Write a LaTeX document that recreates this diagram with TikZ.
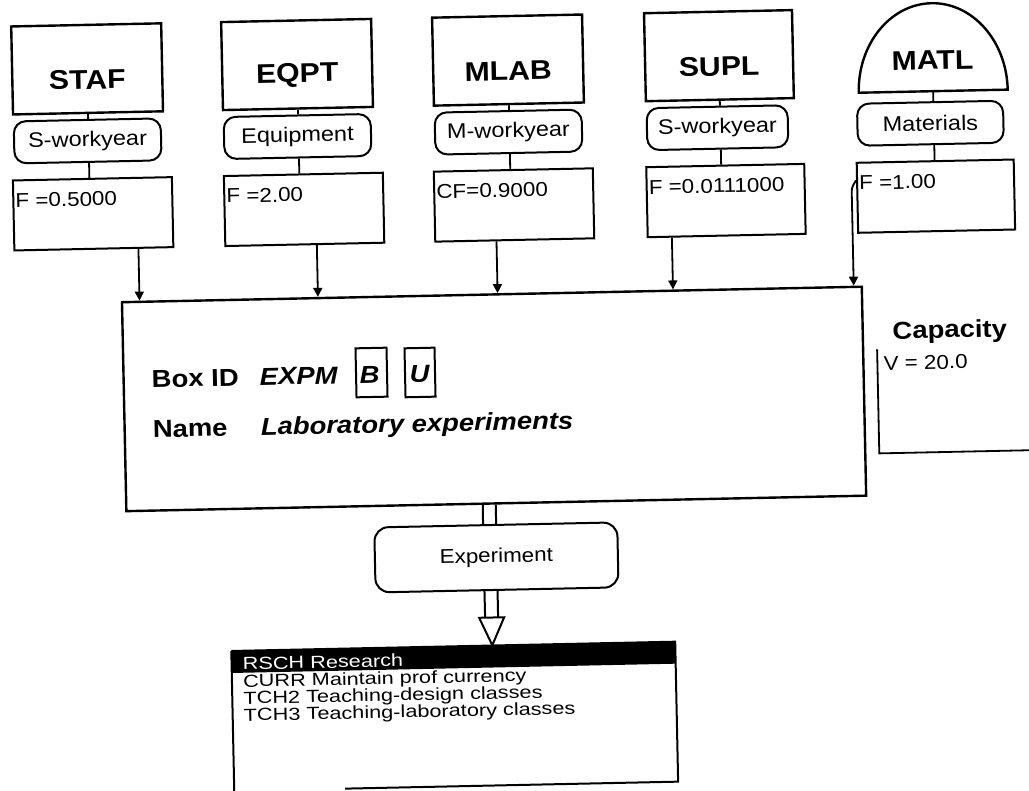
\documentclass[tikz,border=0pt]{standalone}
\usepackage{fontspec}
\setmainfont{Liberation Sans}[FakeStretch=1.12]
\newfontfamily\listfont{Liberation Sans}[FakeStretch=1.24]
\usetikzlibrary{arrows.meta,calc}
\begin{document}
\begin{tikzpicture}[x=1pt,y=-1pt,
  topbox/.style={draw,line width=2.4pt,minimum width=150pt,minimum height=88pt,inner sep=0pt},
  hdr/.style={inner sep=0pt,font=\bfseries\fontsize{27}{30}\selectfont},
  pill/.style={draw,line width=2pt,rounded corners=12pt,minimum width=147pt,minimum height=42pt,inner sep=0pt,font=\fontsize{21}{24}\selectfont},
  fbox/.style={draw,line width=2pt,minimum width=159pt,minimum height=70pt,inner sep=0pt},
  ftext/.style={anchor=base west,inner sep=0pt,font=\fontsize{20}{24}\selectfont},
  link/.style={line width=1.8pt},
  arr/.style={line width=1.8pt,-{Triangle[length=9pt,width=9pt]}},
  bigtxt/.style={anchor=base west,inner sep=0pt,font=\bfseries\fontsize{24.5}{28}\selectfont},
  bigit/.style={anchor=base west,inner sep=0pt,font=\bfseries\itshape\fontsize{24.5}{28}\selectfont},
  bubox/.style={draw,line width=2pt,minimum width=31pt,minimum height=49pt,inner sep=0pt},
  listtxt/.style={anchor=base west,inner sep=0pt,text height=11pt,text depth=2pt,font=\listfont\fontsize{17.5}{20}\selectfont}
]
\useasboundingbox (0,0) rectangle (1029,791);
\fill[white] (0,0) rectangle (1029,791);
\clip (0,0) rectangle (1029,791);
\begin{scope}[rotate around={1.2:(515,395)},transform shape]

% main box
\node[draw,line width=2.4pt,minimum width=740pt,minimum height=209pt,inner sep=0pt] (main) at (494,398.5) {};

% column 1
\node[topbox] (staf) at (94,60) {};
\node[hdr] (stafl) at (94,71) {STAF};
\node[pill] (p1) at (93,132) {S-workyear};
\node[fbox] (f1) at (97,205) {};
\node[ftext] (f1t) at (19.5,197) {F =0.5000};
\draw[link] (staf.south) -- ($(p1.north west)!(staf.south)!(p1.north east)$);
\draw[link] ($(p1.south west)!(staf.south)!(p1.south east)$) -- ($(f1.north west)!(staf.south)!(f1.north east)$);
\coordinate (a1) at ($(f1.south west)!0.777!(f1.south east)$);
\draw[arr] (a1) -- ($(main.north west)!(a1)!(main.north east)$);

% column 2
\node[topbox] (eqpt) at (304,60) {};
\node[hdr] (eqptl) at (304,71) {EQPT};
\node[pill] (p2) at (303,132) {Equipment};
\node[fbox] (f2) at (308,205) {};
\node[ftext] (f2t) at (230.5,197) {F =2.00};
\draw[link] (eqpt.south) -- ($(p2.north west)!(eqpt.south)!(p2.north east)$);
\draw[link] ($(p2.south west)!(eqpt.south)!(p2.south east)$) -- ($(f2.north west)!(eqpt.south)!(f2.north east)$);
\coordinate (a2) at ($(f2.south west)!0.575!(f2.south east)$);
\draw[arr] (a2) -- ($(main.north west)!(a2)!(main.north east)$);

% column 3
\node[topbox] (mlab) at (515,60) {};
\node[hdr] (mlabl) at (515,71) {MLAB};
\node[pill] (p3) at (514,132) {M-workyear};
\node[fbox] (f3) at (518,205) {};
\node[ftext] (f3t) at (440.5,197) {CF=0.9000};
\draw[link] (mlab.south) -- ($(p3.north west)!(mlab.south)!(p3.north east)$);
\draw[link] ($(p3.south west)!(mlab.south)!(p3.south east)$) -- ($(f3.north west)!(mlab.south)!(f3.north east)$);
\coordinate (a3) at ($(f3.south west)!0.387!(f3.south east)$);
\draw[arr] (a3) -- ($(main.north west)!(a3)!(main.north east)$);

% column 4
\node[topbox,minimum width=148pt] (supl) at (726,60) {};
\node[hdr] (supll) at (726,71) {SUPL};
\node[pill,minimum width=141pt] (p4) at (723,132) {S-workyear};
\node[fbox,minimum width=158pt] (f4) at (730,205) {};
\node[ftext] (f4t) at (653,197) {F =0.0111000};
\draw[link] (supl.south) -- ($(p4.north west)!(supl.south)!(p4.north east)$);
\draw[link] ($(p4.south west)!(supl.south)!(p4.south east)$) -- ($(f4.north west)!(supl.south)!(f4.north east)$);
\coordinate (a4) at ($(f4.south west)!0.158!(f4.south east)$);
\draw[arr] (a4) -- ($(main.north west)!(a4)!(main.north east)$);

% column 5 (dome)
\draw[line width=2.4pt] (1014,100) arc[start angle=0,end angle=-180,x radius=74.5,y radius=88] -- cycle;
\coordinate (matlb) at (939.5,100);
\node[hdr] (matl) at (939.5,69) {MATL};
\node[pill,minimum width=146pt] (p5) at (936,132) {Materials};
\node[fbox,minimum width=157pt] (f5) at (940,205) {};
\node[ftext] (f5t) at (863.5,197) {F =1.00};
\draw[link] (matlb) -- ($(p5.north west)!(matlb)!(p5.north east)$);
\draw[link] ($(p5.south west)!(matlb)!(p5.south east)$) -- ($(f5.north west)!(matlb)!(f5.north east)$);
\coordinate (m1) at (856,195);
\draw[arr,rounded corners=3pt] ($(f5.north west)!0.257!(f5.south west)$) -- (m1) -- ($(main.north west)!(m1)!(main.north east)$);

% main box content
\node[bigtxt] (boxid) at (152,380) {Box ID};
\node[bigit] (expm) at (260,380) {EXPM};
\node[bubox] (bb) at (372,369.5) {};
\node[anchor=base,inner sep=0pt,font=\bfseries\itshape\fontsize{24.5}{28}\selectfont] (bbt) at (370,380) {B};
\node[bubox,minimum width=30pt] (ub) at (420.5,370.5) {};
\node[anchor=base,inner sep=0pt,font=\bfseries\itshape\fontsize{24.5}{28}\selectfont] (ubt) at (420,380) {U};
\node[bigtxt] (name) at (152,430) {Name};
\node[bigit] (labx) at (260,430) {Laboratory experiments};

% capacity
\node[anchor=base,inner sep=0pt,font=\bfseries\fontsize{24.5}{28}\selectfont] (cap) at (951,347) {Capacity};
\node[ftext] (capv) at (884,378) {V = 20.0};
\draw[line width=1.8pt] (878,357) -- (878,461) -- (1045,461);

% output
\node[draw,line width=2pt,rounded corners=14pt,minimum width=243pt,minimum height=65pt,inner sep=0pt,font=\fontsize{20}{24}\selectfont] (exp) at (493,557) {Experiment};
\draw[link,line width=2pt] ($(main.south west)!0.4818!(main.south east)$) -- ($(exp.north west)!0.4486!(exp.north east)$);
\draw[link,line width=2pt] ($(main.south west)!0.4993!(main.south east)$) -- ($(exp.north west)!0.502!(exp.north east)$);
\coordinate (tb1) at (480.5,617);
\coordinate (tb2) at (493.5,617);
\draw[link,line width=2pt] ($(exp.south west)!0.4486!(exp.south east)$) -- (tb1);
\draw[link,line width=2pt] ($(exp.south west)!0.502!(exp.south east)$) -- (tb2);
\node[minimum width=444pt,minimum height=140pt,inner sep=0pt] (list) at (448,715) {};
\draw[line width=2pt,fill=white,line join=miter] (474.5,617) -- (499.5,617) -- ($(list.north west)!0.588!(list.north east)$) -- cycle;

% list box
\fill (226,645) rectangle (670,667);
\draw[line width=2pt] (226,645) -- (670,645) -- (670,785) -- (337,785);
\draw[line width=2pt] (226,645) -- (226,800);
\node[listtxt,text=white] (l1) at (237,664) {RSCH Research};
\node[listtxt] (l2) at (237,681.5) {CURR Maintain prof currency};
\node[listtxt] (l3) at (237,698.5) {TCH2 Teaching-design classes};
\node[listtxt] (l4) at (237,715.5) {TCH3 Teaching-laboratory classes};
\end{scope}
\end{tikzpicture}
\end{document}
